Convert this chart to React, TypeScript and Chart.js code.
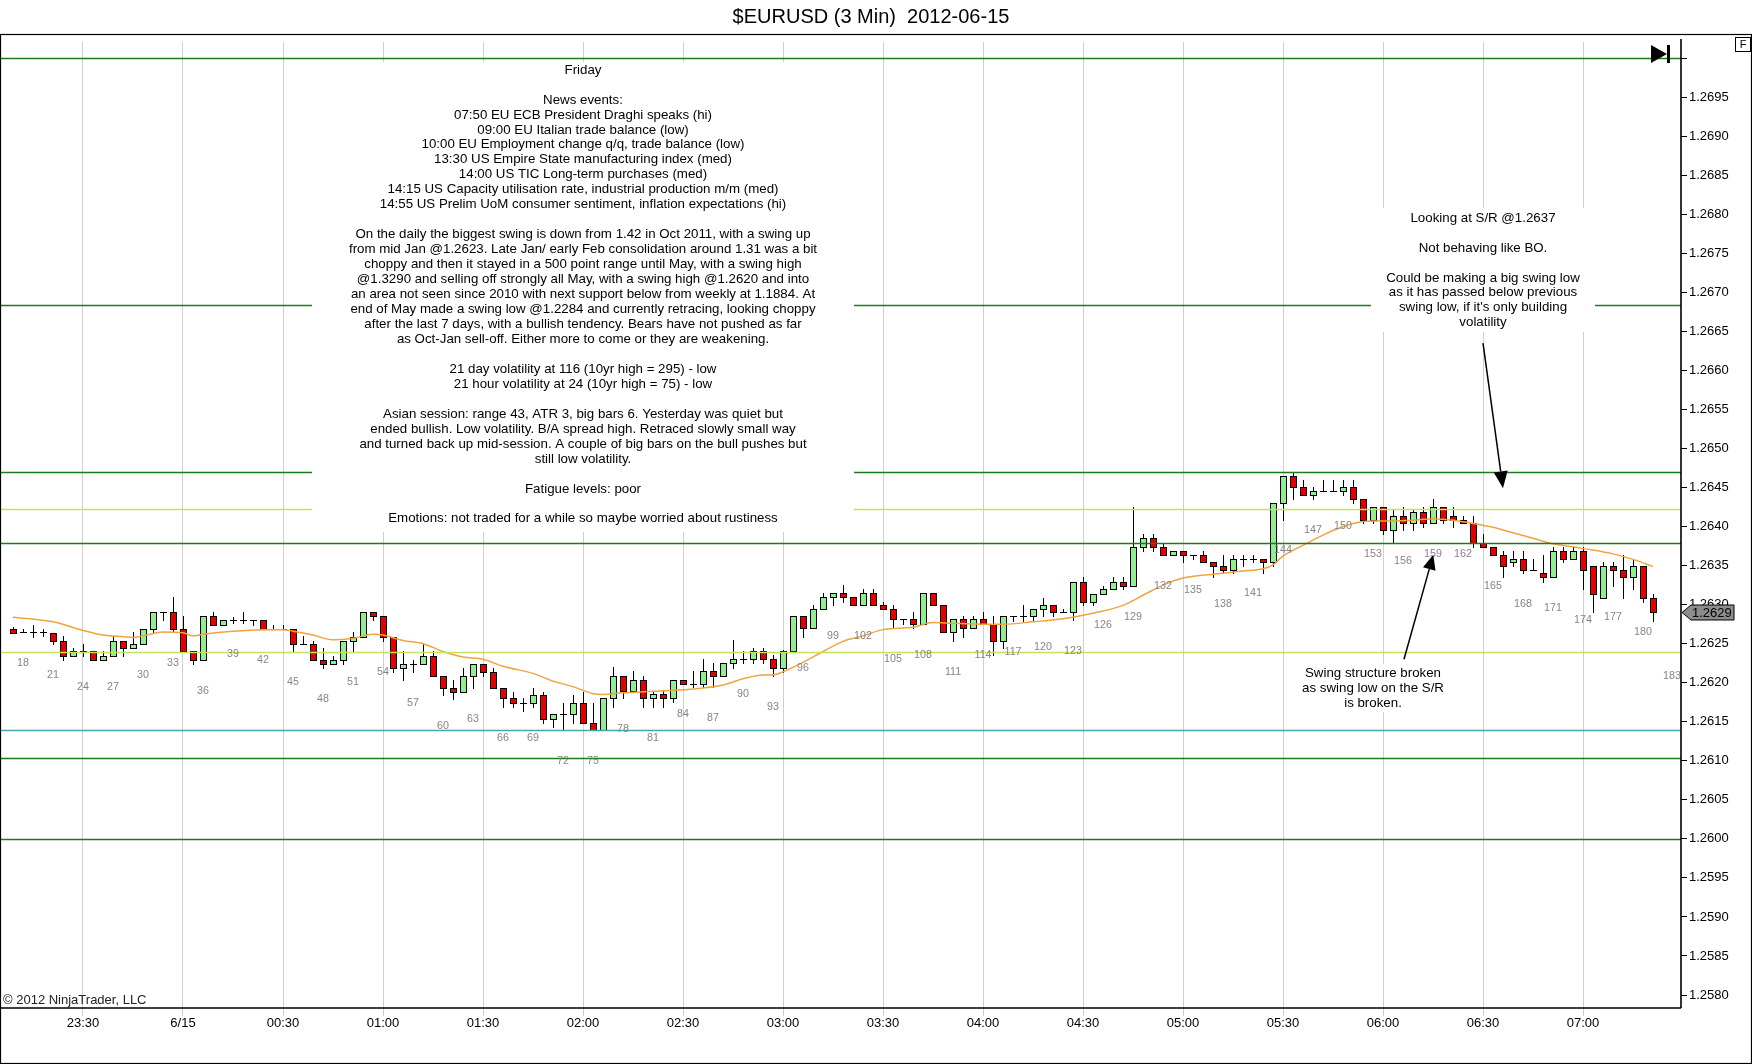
import React, { useEffect, useRef } from "react";
import { Chart, registerables } from "chart.js";

Chart.register(...registerables);

// ---------------- DATA ----------------
const TITLE = "$EURUSD (3 Min)  2012-06-15";
const COPYRIGHT = "\u00A9 2012 NinjaTrader, LLC";

const FIRST_BAR = 17;

const opens = [
  1.26269, 1.26265, 1.26265, 1.26265, 1.26264, 1.26254, 1.26234, 1.2624, 1.2624, 1.26229,
  1.26234, 1.26254, 1.26244, 1.26249, 1.26269, 1.2629, 1.2629, 1.26269, 1.2624, 1.26229,
  1.26285, 1.26274, 1.2628, 1.2628, 1.2628, 1.2628, 1.26269, 1.26269, 1.26269, 1.26249,
  1.26249, 1.26229, 1.26224, 1.26229, 1.26254, 1.26259, 1.2629, 1.26285, 1.26259, 1.26219,
  1.26224, 1.26224, 1.26234, 1.26209, 1.26193, 1.26188, 1.26209, 1.26224, 1.26214, 1.26193,
  1.2618, 1.26174, 1.26174, 1.26184, 1.26154, 1.2616, 1.2616, 1.26174, 1.26149, 1.26139,
  1.2618, 1.26209, 1.26189, 1.26204, 1.2618, 1.26185, 1.2618, 1.26204, 1.26199, 1.26199,
  1.26215, 1.26209, 1.26225, 1.2623, 1.2623, 1.2624, 1.2623, 1.26219, 1.2624, 1.26285,
  1.2627, 1.26295, 1.2631, 1.26315, 1.2631, 1.26299, 1.26315, 1.26299, 1.26295, 1.26281,
  1.26281, 1.26275, 1.26315, 1.26299, 1.26265, 1.26281, 1.2627, 1.26281, 1.26275, 1.26254,
  1.26286, 1.26286, 1.26285, 1.26295, 1.26299, 1.2629, 1.2629, 1.26329, 1.26304, 1.26314,
  1.2632, 1.26329, 1.26324, 1.26374, 1.26385, 1.26374, 1.26364, 1.26369, 1.26364, 1.26364,
  1.26354, 1.2635, 1.26345, 1.26359, 1.26359, 1.26359, 1.26354, 1.2643, 1.26465, 1.26451,
  1.2644, 1.26445, 1.26445, 1.26445, 1.26451, 1.26435, 1.26408, 1.26425, 1.26395, 1.26414,
  1.26404, 1.26419, 1.26404, 1.26425, 1.26414, 1.26409, 1.26404, 1.26379, 1.26374, 1.26364,
  1.26354, 1.26359, 1.26345, 1.2634, 1.26335, 1.26369, 1.26359, 1.26369, 1.2635, 1.26309,
  1.2635, 1.26345, 1.26335, 1.2635, 1.26309,
];

const highs = [
  1.26271, 1.26269, 1.26274, 1.26269, 1.26264, 1.2626, 1.26244, 1.26249, 1.2624, 1.2624,
  1.2626, 1.26254, 1.26265, 1.26269, 1.2629, 1.2629, 1.2631, 1.26285, 1.2624, 1.26285,
  1.2629, 1.2628, 1.26284, 1.2629, 1.2628, 1.2628, 1.26274, 1.26274, 1.26269, 1.2626,
  1.26254, 1.26244, 1.26234, 1.26254, 1.26265, 1.2629, 1.2629, 1.26285, 1.26259, 1.2624,
  1.26229, 1.26249, 1.2624, 1.26209, 1.26203, 1.26219, 1.26224, 1.26224, 1.26219, 1.26193,
  1.26188, 1.2618, 1.26193, 1.26188, 1.2616, 1.26174, 1.26184, 1.26188, 1.26174, 1.2618,
  1.2622, 1.26209, 1.26215, 1.26209, 1.26189, 1.26189, 1.26204, 1.26204, 1.26215, 1.2623,
  1.26225, 1.26225, 1.26255, 1.2624, 1.26244, 1.26244, 1.26235, 1.26242, 1.26285, 1.26285,
  1.26299, 1.26315, 1.26315, 1.26325, 1.2631, 1.2632, 1.2632, 1.26304, 1.26299, 1.26281,
  1.26291, 1.26315, 1.26315, 1.26299, 1.26281, 1.26286, 1.26286, 1.2629, 1.26286, 1.26286,
  1.26286, 1.26299, 1.26295, 1.26309, 1.26299, 1.26295, 1.26329, 1.26335, 1.26314, 1.26324,
  1.26335, 1.26335, 1.26425, 1.2639, 1.2639, 1.26379, 1.26369, 1.26369, 1.26364, 1.26369,
  1.26354, 1.26364, 1.26364, 1.26364, 1.26364, 1.26359, 1.2643, 1.26465, 1.26468, 1.2646,
  1.26451, 1.2646, 1.2646, 1.2646, 1.2646, 1.26435, 1.26425, 1.26425, 1.26421, 1.26425,
  1.26421, 1.26425, 1.26435, 1.26425, 1.26425, 1.26414, 1.26414, 1.2639, 1.26374, 1.26369,
  1.26369, 1.26369, 1.26359, 1.26364, 1.26374, 1.26374, 1.26374, 1.26374, 1.2635, 1.26354,
  1.26354, 1.26364, 1.26359, 1.2635, 1.26314,
];

const lows = [
  1.26264, 1.26265, 1.26259, 1.2626, 1.26249, 1.26229, 1.26234, 1.26234, 1.26229, 1.26229,
  1.26234, 1.26234, 1.26244, 1.26249, 1.26264, 1.2628, 1.26265, 1.2624, 1.26224, 1.26229,
  1.26274, 1.26274, 1.26276, 1.26277, 1.26274, 1.26269, 1.26269, 1.26269, 1.2624, 1.26249,
  1.26229, 1.26219, 1.26224, 1.26224, 1.2624, 1.26259, 1.2628, 1.26254, 1.26214, 1.26203,
  1.26214, 1.26224, 1.26209, 1.26184, 1.26179, 1.26188, 1.26193, 1.26209, 1.26193, 1.26169,
  1.26169, 1.26164, 1.26169, 1.26149, 1.26143, 1.26139, 1.26149, 1.26149, 1.26139, 1.26139,
  1.26169, 1.2618, 1.26189, 1.26169, 1.26169, 1.26169, 1.26175, 1.26199, 1.26194, 1.26194,
  1.26194, 1.26209, 1.26219, 1.26225, 1.26225, 1.26225, 1.26209, 1.26214, 1.2624, 1.26259,
  1.2627, 1.26295, 1.26299, 1.26304, 1.26299, 1.26299, 1.26299, 1.26295, 1.2627, 1.26275,
  1.2627, 1.26275, 1.26299, 1.26265, 1.26254, 1.26259, 1.2627, 1.26275, 1.26235, 1.26244,
  1.26279, 1.26279, 1.26279, 1.26285, 1.26285, 1.2629, 1.2628, 1.26299, 1.26299, 1.26314,
  1.2632, 1.2632, 1.26324, 1.26369, 1.26369, 1.26364, 1.26364, 1.26354, 1.26359, 1.26354,
  1.26335, 1.2634, 1.2634, 1.2635, 1.26354, 1.2634, 1.2635, 1.26409, 1.26435, 1.2644,
  1.26435, 1.26445, 1.26445, 1.2644, 1.2643, 1.26404, 1.26404, 1.2639, 1.26379, 1.26395,
  1.26395, 1.264, 1.26404, 1.26404, 1.264, 1.26404, 1.26374, 1.26374, 1.26364, 1.26335,
  1.2635, 1.2634, 1.26345, 1.26329, 1.26335, 1.26354, 1.26359, 1.2632, 1.2629, 1.26309,
  1.26324, 1.26309, 1.2632, 1.26304, 1.26279,
];

const closes = [
  1.26264, 1.26265, 1.26265, 1.26265, 1.26254, 1.26234, 1.2624, 1.2624, 1.26229, 1.26234,
  1.26254, 1.26244, 1.26249, 1.26269, 1.2629, 1.2629, 1.26269, 1.2624, 1.26229, 1.26285,
  1.26274, 1.2628, 1.2628, 1.2628, 1.2628, 1.26269, 1.26269, 1.26269, 1.26249, 1.26249,
  1.26229, 1.26224, 1.26229, 1.26254, 1.26259, 1.2629, 1.26285, 1.26259, 1.26219, 1.26224,
  1.26224, 1.26234, 1.26209, 1.26193, 1.26188, 1.26209, 1.26224, 1.26214, 1.26193, 1.2618,
  1.26174, 1.26174, 1.26184, 1.26154, 1.2616, 1.2616, 1.26174, 1.26149, 1.26139, 1.2618,
  1.26209, 1.26189, 1.26204, 1.2618, 1.26185, 1.2618, 1.26204, 1.26199, 1.26199, 1.26215,
  1.26209, 1.26225, 1.2623, 1.2623, 1.2624, 1.2623, 1.26219, 1.2624, 1.26285, 1.2627,
  1.26295, 1.2631, 1.26315, 1.2631, 1.26299, 1.26315, 1.26299, 1.26295, 1.26281, 1.26281,
  1.26275, 1.26315, 1.26299, 1.26265, 1.26281, 1.2627, 1.26281, 1.26275, 1.26254, 1.26286,
  1.26286, 1.26286, 1.26295, 1.26299, 1.2629, 1.2629, 1.26329, 1.26304, 1.26314, 1.2632,
  1.26329, 1.26324, 1.26374, 1.26385, 1.26374, 1.26364, 1.26369, 1.26364, 1.26364, 1.26354,
  1.2635, 1.26345, 1.26359, 1.26359, 1.26359, 1.26354, 1.2643, 1.26465, 1.26451, 1.2644,
  1.26445, 1.26445, 1.26445, 1.26451, 1.26435, 1.26408, 1.26425, 1.26395, 1.26414, 1.26404,
  1.26419, 1.26404, 1.26425, 1.26409, 1.26409, 1.26404, 1.26379, 1.26374, 1.26364, 1.2635,
  1.26359, 1.26345, 1.26345, 1.26335, 1.26369, 1.26359, 1.26369, 1.26345, 1.26314, 1.2635,
  1.26345, 1.26335, 1.2635, 1.26309, 1.2629,
];

// moving-average line, points
const smaBars = [
  17, 21, 24, 26, 28, 29, 30, 32, 34, 35, 36, 39, 42, 44, 45, 47, 49, 51, 53, 54,
  56, 58, 60, 62, 64, 66, 69, 71, 73, 75, 76, 78, 81, 85, 88, 90, 92, 93, 94, 96,
  98, 100, 102, 104, 107, 109, 111, 114, 116, 119, 122, 125, 128, 130, 132, 134, 137, 140, 142, 143,
  144, 146, 148, 149, 151, 153, 155, 157, 159, 161, 163, 165, 167, 169, 171, 173, 175, 177, 179, 181,
];
const smaValues = [
  1.26284, 1.26278, 1.26267, 1.26261, 1.26259, 1.26258, 1.2626, 1.26265, 1.26264, 1.2626,
  1.26262, 1.26266, 1.26268, 1.26268, 1.26266, 1.26261, 1.26255, 1.26257, 1.26262, 1.26261,
  1.26254, 1.2625, 1.2624, 1.26233, 1.2623, 1.26221, 1.26212, 1.26202, 1.26195, 1.26186,
  1.26185, 1.26187, 1.26189, 1.26192, 1.26197, 1.26205, 1.2621, 1.2621, 1.26214, 1.26226,
  1.2624, 1.26253, 1.2626, 1.26268, 1.26271, 1.26277, 1.26276, 1.26275, 1.26275, 1.26278,
  1.26282, 1.26289, 1.26299, 1.26312, 1.26325, 1.26334, 1.26339, 1.26343, 1.26346, 1.26351,
  1.26362, 1.26376, 1.26389, 1.26395, 1.26404, 1.26407, 1.26407, 1.26408, 1.2641, 1.26408,
  1.26404, 1.26399, 1.26392, 1.26385, 1.26378, 1.26374, 1.2637, 1.26365, 1.26358, 1.26349,
];

const timeTickBars = [24, 34, 44, 54, 64, 74, 84, 94, 104, 114, 124, 134, 144, 154, 164, 174];
const timeTickLabels = [
  "23:30", "6/15", "00:30", "01:00", "01:30", "02:00", "02:30", "03:00",
  "03:30", "04:00", "04:30", "05:00", "05:30", "06:00", "06:30", "07:00",
];

const priceTicks = [
  1.258, 1.2585, 1.259, 1.2595, 1.26, 1.2605, 1.261, 1.2615, 1.262, 1.2625,
  1.263, 1.2635, 1.264, 1.2645, 1.265, 1.2655, 1.266, 1.2665, 1.267, 1.2675,
  1.268, 1.2685, 1.269, 1.2695, 1.27,
];

// horizontal drawn levels
const levelPrices = [1.27, 1.26684, 1.2647, 1.26422, 1.26379, 1.26239, 1.26139, 1.26104, 1.26];
const levelKinds = ["green", "green", "green", "yellow", "green", "yellow", "teal", "green", "green"];

// bar-number label that has no candle yet
const extraLabelBar = 183;
const extraLabelLow = 1.26248;

const note1Lines = [
  "Friday",
  "",
  "News events:",
  "07:50 EU ECB President Draghi speaks (hi)",
  "09:00 EU Italian trade balance (low)",
  "10:00 EU Employment change q/q, trade balance (low)",
  "13:30 US Empire State manufacturing index (med)",
  "14:00 US TIC Long-term purchases (med)",
  "14:15 US Capacity utilisation rate, industrial production m/m (med)",
  "14:55 US Prelim UoM consumer sentiment, inflation expectations (hi)",
  "",
  "On the daily the biggest swing is down from 1.42 in Oct 2011, with a swing up",
  "from mid Jan @1.2623. Late Jan/ early Feb consolidation around 1.31 was a bit",
  "choppy and then it stayed in a 500 point range until May, with a swing high",
  "@1.3290 and selling off strongly all May, with a swing high @1.2620 and into",
  "an area not seen since 2010 with next support below from weekly at 1.1884. At",
  "end of May made a swing low @1.2284 and currently retracing, looking choppy",
  "after the last 7 days, with a bullish tendency. Bears have not pushed as far",
  "as Oct-Jan sell-off. Either more to come or they are weakening.",
  "",
  "21 day volatility at 116 (10yr high = 295) - low",
  "21 hour volatility at 24 (10yr high = 75) - low",
  "",
  "Asian session: range 43, ATR 3, big bars 6. Yesterday was quiet but",
  "ended bullish. Low volatility. B/A spread high. Retraced slowly small way",
  "and turned back up mid-session. A couple of big bars on the bull pushes but",
  "still low volatility.",
  "",
  "Fatigue levels: poor",
  "",
  "Emotions: not traded for a while so maybe worried about rustiness",
];
const note1Anchor = { bar: 74, price: 1.26995 };

const note2Lines = [
  "Looking at S/R @1.2637",
  "",
  "Not behaving like BO.",
  "",
  "Could be making a big swing low",
  "as it has passed below previous",
  "swing low, if it's only building",
  "volatility",
];
const note2Anchor = { bar: 164, price: 1.26808 };

const note3Lines = ["Swing structure broken", "as swing low on the S/R", "is broken."];
const note3Anchor = { bar: 153, price: 1.26224 };

const arrow1 = { fromBar: 164, fromPrice: 1.26635, toBar: 166, toPrice: 1.26449 };
const arrow2 = { fromBar: 156.1, fromPrice: 1.2623, toBar: 159.03, toPrice: 1.26364 };

// ---------------- STYLE ----------------
const FONT = "'Liberation Sans', Arial, sans-serif";
const X_MIN = 15.8;
const X_MAX = 183.8;
const Y_MIN = 1.2578339;
const Y_MAX = 1.2702062;
const UP = "#90ee90";
const DOWN = "#e20000";
const SMA_COLOR = "#f2a33c";
const LEVEL_COLORS: Record<string, string> = {
  green: "#1e7a1e",
  yellow: "#c4e25c",
  teal: "#45a8a8",
};

function drawArrow(ctx: CanvasRenderingContext2D, x1: number, y1: number, x2: number, y2: number, headLen: number, headW: number) {
  const ang = Math.atan2(y2 - y1, x2 - x1);
  const bx = x2 - headLen * Math.cos(ang);
  const by = y2 - headLen * Math.sin(ang);
  ctx.strokeStyle = "#000";
  ctx.lineWidth = 1.5;
  ctx.beginPath();
  ctx.moveTo(x1, y1);
  ctx.lineTo(bx, by);
  ctx.stroke();
  const px = (-Math.sin(ang) * headW) / 2;
  const py = (Math.cos(ang) * headW) / 2;
  ctx.fillStyle = "#000";
  ctx.beginPath();
  ctx.moveTo(x2, y2);
  ctx.lineTo(bx + px, by + py);
  ctx.lineTo(bx - px, by - py);
  ctx.closePath();
  ctx.fill();
}

function drawNote(ctx: CanvasRenderingContext2D, cx: number, top: number, w: number, h: number, first: number, lines: string[]) {
  ctx.fillStyle = "#fff";
  ctx.fillRect(Math.round(cx - w / 2), Math.round(top), w, h);
  ctx.fillStyle = "#000";
  ctx.font = `13.3px ${FONT}`;
  ctx.textAlign = "center";
  ctx.textBaseline = "middle";
  lines.forEach((t, i) => {
    if (t) ctx.fillText(t, cx, top + first + i * 14.96);
  });
}

const ninjaPlugin = {
  id: "ninja",
  beforeDraw(chart: any) {
    const ctx = chart.ctx as CanvasRenderingContext2D;
    ctx.save();
    ctx.fillStyle = "#fff";
    ctx.fillRect(0, 0, chart.width, chart.height);
    ctx.restore();
  },
  beforeDatasetsDraw(chart: any) {
    const ctx = chart.ctx as CanvasRenderingContext2D;
    const xs = chart.scales.x;
    const ys = chart.scales.y;
    const ca = chart.chartArea;
    ctx.save();
    ctx.beginPath();
    ctx.rect(ca.left, ca.top, ca.right - ca.left, ca.bottom - ca.top);
    ctx.clip();
    ctx.strokeStyle = "#000";
    ctx.lineWidth = 1;
    for (let k = 0; k < opens.length; k++) {
      const bar = FIRST_BAR + k;
      const x = Math.round(xs.getPixelForValue(bar));
      const yo = ys.getPixelForValue(opens[k]);
      const yc = ys.getPixelForValue(closes[k]);
      const yh = Math.round(ys.getPixelForValue(highs[k]));
      const yl = Math.round(ys.getPixelForValue(lows[k]));
      ctx.beginPath();
      ctx.moveTo(x + 0.5, yh);
      ctx.lineTo(x + 0.5, yl + 1);
      ctx.stroke();
      const top = Math.round(Math.min(yo, yc));
      const bot = Math.round(Math.max(yo, yc));
      if (bot - top < 1) {
        ctx.beginPath();
        ctx.moveTo(x - 3, top + 0.5);
        ctx.lineTo(x + 4, top + 0.5);
        ctx.stroke();
      } else {
        ctx.fillStyle = closes[k] > opens[k] ? UP : DOWN;
        ctx.fillRect(x - 3, top, 7, bot - top + 1);
        ctx.strokeRect(x - 3 + 0.5, top + 0.5, 6, bot - top);
      }
    }
    ctx.restore();
  },
  afterDatasetsDraw(chart: any) {
    const ctx = chart.ctx as CanvasRenderingContext2D;
    const xs = chart.scales.x;
    const ys = chart.scales.y;
    const ca = chart.chartArea;
    const xp = (v: number) => xs.getPixelForValue(v);
    const yp = (v: number) => ys.getPixelForValue(v);
    ctx.save();

    // horizontal levels
    levelPrices.forEach((p, i) => {
      const y = Math.round(yp(p)) + 0.5;
      ctx.strokeStyle = LEVEL_COLORS[levelKinds[i]];
      ctx.lineWidth = 1.4;
      ctx.beginPath();
      ctx.moveTo(0, y);
      ctx.lineTo(ca.right, y);
      ctx.stroke();
    });

    // text notes
    drawNote(ctx, xp(note1Anchor.bar), yp(note1Anchor.price), 542, 470, 8, note1Lines);
    drawNote(ctx, xp(note2Anchor.bar), yp(note2Anchor.price), 224, 124, 10, note2Lines);
    drawNote(ctx, xp(note3Anchor.bar), yp(note3Anchor.price), 146, 48, 9, note3Lines);

    // bar numbers
    ctx.fillStyle = "#858585";
    ctx.font = `10.7px ${FONT}`;
    ctx.textAlign = "center";
    ctx.textBaseline = "middle";
    for (let k = 0; k < lows.length; k++) {
      const bar = FIRST_BAR + k;
      if (bar % 3 !== 0) continue;
      ctx.fillText(String(bar), xp(bar), yp(lows[k]) + 31);
    }
    ctx.fillText(String(extraLabelBar), xp(extraLabelBar) - 1, yp(extraLabelLow) + 31);

    // arrows
    drawArrow(ctx, xp(arrow1.fromBar), yp(arrow1.fromPrice), xp(arrow1.toBar), yp(arrow1.toPrice), 17, 14);
    drawArrow(ctx, xp(arrow2.fromBar), yp(arrow2.fromPrice), xp(arrow2.toBar), yp(arrow2.toPrice), 15, 13);

    // axis lines
    ctx.strokeStyle = "#000";
    ctx.lineWidth = 1.6;
    ctx.beginPath();
    ctx.moveTo(0, ca.bottom);
    ctx.lineTo(ca.right, ca.bottom);
    ctx.moveTo(ca.right, 39);
    ctx.lineTo(ca.right, ca.bottom);
    ctx.stroke();

    // current price marker
    const last = closes[closes.length - 1];
    const py = Math.round(yp(last)) + 0.5;
    ctx.fillStyle = "#8c8c8c";
    ctx.strokeStyle = "#000";
    ctx.lineWidth = 1;
    ctx.beginPath();
    ctx.moveTo(ca.right + 1, py);
    ctx.lineTo(ca.right + 10, py - 7.5);
    ctx.lineTo(ca.right + 53, py - 7.5);
    ctx.lineTo(ca.right + 53, py + 7.5);
    ctx.lineTo(ca.right + 10, py + 7.5);
    ctx.closePath();
    ctx.fill();
    ctx.stroke();
    ctx.fillStyle = "#000";
    ctx.font = `13px ${FONT}`;
    ctx.textAlign = "left";
    ctx.textBaseline = "middle";
    ctx.fillText(last.toFixed(4), ca.right + 11, py + 0.5);

    // end-of-chart marker
    ctx.fillStyle = "#000";
    ctx.beginPath();
    ctx.moveTo(1651, 45);
    ctx.lineTo(1667, 54);
    ctx.lineTo(1651, 63);
    ctx.closePath();
    ctx.fill();
    ctx.fillRect(1667, 45, 3, 18);

    // F box
    ctx.strokeStyle = "#000";
    ctx.lineWidth = 1;
    ctx.strokeRect(1735.5, 37.5, 15, 14);
    ctx.font = `11px ${FONT}`;
    ctx.textAlign = "center";
    ctx.fillText("F", 1743, 45);

    // title
    ctx.font = `20px ${FONT}`;
    ctx.textAlign = "center";
    ctx.textBaseline = "middle";
    ctx.fillStyle = "#000";
    ctx.fillText(TITLE, 871, 17);

    // copyright
    ctx.font = `13px ${FONT}`;
    ctx.textAlign = "left";
    ctx.fillStyle = "#222";
    ctx.fillText(COPYRIGHT, 3, 1000);

    // outer frame
    ctx.strokeStyle = "#000";
    ctx.lineWidth = 1.2;
    ctx.strokeRect(0.5, 34.5, chart.width - 1, chart.height - 35);

    ctx.restore();
  },
};

export default function App() {
  const ref = useRef<HTMLCanvasElement>(null);
  useEffect(() => {
    document.body.style.margin = "0";
    const canvas = ref.current;
    if (!canvas) return;
    const chart = new Chart(canvas, {
      type: "line",
      data: {
        datasets: [
          {
            data: smaBars.map((b, i) => ({ x: b, y: smaValues[i] })),
            borderColor: SMA_COLOR,
            borderWidth: 1.5,
            pointRadius: 0,
            tension: 0.4,
            cubicInterpolationMode: "monotone",
            fill: false,
          },
        ],
      },
      options: {
        responsive: false,
        animation: false,
        events: [],
        layout: { padding: { top: 42, left: 1, right: 0, bottom: 0 } },
        plugins: {
          legend: { display: false },
          tooltip: { enabled: false },
          title: { display: false },
        },
        scales: {
          x: {
            type: "linear",
            min: X_MIN,
            max: X_MAX,
            afterBuildTicks: (s: any) => {
              s.ticks = timeTickBars.map((v) => ({ value: v }));
            },
            afterFit: (s: any) => {
              s.height = 56;
            },
            ticks: {
              autoSkip: false,
              maxRotation: 0,
              minRotation: 0,
              padding: 0,
              color: "#000",
              font: { family: FONT, size: 13 },
              callback: (v: any) => {
                const i = timeTickBars.indexOf(Number(v));
                return i >= 0 ? timeTickLabels[i] : "";
              },
            },
            grid: { color: "#cfcfcf", lineWidth: 1, tickLength: 8, drawTicks: true },
            border: { display: false },
          },
          y: {
            type: "linear",
            position: "right",
            min: Y_MIN,
            max: Y_MAX,
            afterBuildTicks: (s: any) => {
              s.ticks = priceTicks.map((v) => ({ value: v }));
            },
            afterFit: (s: any) => {
              s.width = 71;
            },
            ticks: {
              padding: 2,
              color: "#000",
              font: { family: FONT, size: 13 },
              callback: (v: any) => (Number(v) > 1.26999 ? "" : Number(v).toFixed(4)),
            },
            grid: { drawOnChartArea: false, drawTicks: true, tickLength: 6, color: "#000" },
            border: { display: false },
          },
        },
      },
      plugins: [ninjaPlugin],
    } as any);
    return () => chart.destroy();
  }, []);
  return (
    <div style={{ position: "absolute", left: 0, top: 0, width: 1752, height: 1064, background: "#fff" }}>
      <canvas ref={ref} width={1752} height={1064} style={{ width: 1752, height: 1064, display: "block" }} />
    </div>
  );
}
